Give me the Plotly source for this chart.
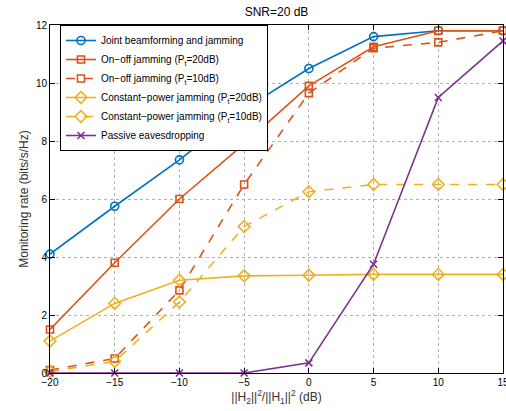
import plotly.graph_objects as go

# Channel gain ratio ||H2||^2/||H1||^2 in dB
ratio_db = [-20, -15, -10, -5, 0, 5, 10, 15]

# Monitoring rate (bits/s/Hz) for each scheme
joint_bf_jam = [4.1, 5.75, 7.35, 9.1, 10.5, 11.6, 11.8, 11.8]
onoff_20db = [1.5, 3.8, 6.0, 7.9, 9.9, 11.25, 11.8, 11.8]
onoff_10db = [0.1, 0.5, 2.85, 6.5, 9.65, 11.2, 11.4, 11.8]
const_20db = [1.1, 2.4, 3.2, 3.35, 3.37, 3.4, 3.4, 3.4]
const_10db = [0.05, 0.4, 2.45, 5.05, 6.25, 6.5, 6.5, 6.5]
passive = [0.0, 0.0, 0.0, 0.0, 0.35, 3.75, 9.5, 11.45]

x_ticks = [-20, -15, -10, -5, 0, 5, 10, 15]
y_ticks = [0, 2, 4, 6, 8, 10, 12]

BLUE = "#0072BD"
ORANGE = "#D95319"
YELLOW = "#EDB120"
PURPLE = "#7E2F8E"

series = [
    ("Joint beamforming and jamming", joint_bf_jam, BLUE, "solid", "circle-open", 8),
    ("On−off jamming (P<sub>t</sub>=20dB)", onoff_20db, ORANGE, "solid", "square-open", 7),
    ("On−off jamming (P<sub>t</sub>=10dB)", onoff_10db, ORANGE, "dash", "square-open", 7),
    ("Constant−power jamming (P<sub>t</sub>=20dB)", const_20db, YELLOW, "solid", "diamond-open", 9),
    ("Constant−power jamming (P<sub>t</sub>=10dB)", const_10db, YELLOW, "dash", "diamond-open", 9),
    ("Passive eavesdropping", passive, PURPLE, "solid", "x-thin-open", 7),
]

fig = go.Figure()
for name, ys, color, dash, symbol, size in series:
    fig.add_trace(go.Scatter(
        x=ratio_db, y=ys, name=name, mode="lines+markers",
        line=dict(color=color, width=1.6, dash=dash),
        marker=dict(symbol=symbol, size=size, color=color,
                    line=dict(color=color, width=1.6)),
        cliponaxis=False,
    ))

axis_common = dict(
    showline=True, linecolor="black", linewidth=1, mirror="ticks",
    ticks="inside", ticklen=5, tickcolor="black",
    showgrid=True, gridcolor="#b0b0b0", griddash="dot", gridwidth=1,
    zeroline=False, tickfont=dict(size=10, color="black"), automargin=False,
)

fig.update_layout(
    width=506, height=411,
    margin=dict(l=50, r=3, t=25, b=38),
    paper_bgcolor="white", plot_bgcolor="white",
    font=dict(family="Liberation Sans, Arial, sans-serif", color="black"),
    title=dict(text="SNR=20 dB", xref="paper", x=0.5, xanchor="center",
               y=0.972, yanchor="middle",
               font=dict(size=12, color="black")),
    xaxis=dict(range=[-20, 15], tickvals=x_ticks, ticklabeloverflow="allow",
               title=dict(text="||H<sub>2</sub>||<sup>2</sup>/||H<sub>1</sub>||<sup>2</sup> (dB)",
                          font=dict(size=12, color="#333"), standoff=4),
               **axis_common),
    yaxis=dict(range=[0, 12], tickvals=y_ticks,
               title=dict(text="Monitoring rate (bits/s/Hz)",
                          font=dict(size=12, color="#333"), standoff=4),
               **axis_common),
    legend=dict(x=0.022, y=1.0, xanchor="left", yanchor="top",
                bgcolor="white", bordercolor="black", borderwidth=1,
                font=dict(size=10, color="black"), tracegroupgap=0,
                itemwidth=30),
    showlegend=True,
)

fig.write_html("out.html")
